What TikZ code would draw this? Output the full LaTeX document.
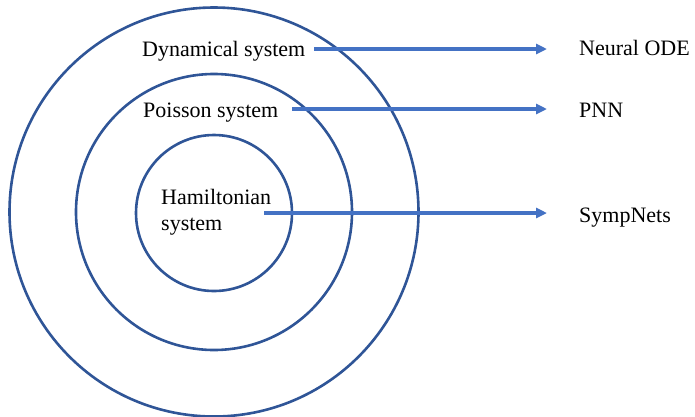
\documentclass[tikz,border=0pt]{standalone}
\usepackage{fontspec}
\setmainfont{Liberation Serif}
\usetikzlibrary{arrows.meta}
\definecolor{ringblue}{HTML}{2F5597}
\definecolor{arrowblue}{HTML}{4472C4}
\tikzset{
  ring/.style={draw=ringblue, line width=2.6pt},
  lbl/.style={inner sep=0pt, anchor=base west, font=\fontsize{22}{26}\selectfont, align=left},
  arr/.style={draw=arrowblue, line width=3.2pt, -{Triangle[length=11pt,width=10pt]}, shorten >=32pt}
}
\begin{document}
\begin{tikzpicture}[x=1pt,y=-1pt]
\useasboundingbox (0,0) rectangle (695,416);
\coordinate (c) at (214,212);
\draw[ring] (c) circle[radius=204.5pt];
\draw[ring] (c) circle[radius=138pt];
\draw[ring] (214,213) circle[radius=78pt];
\node[lbl] (dyn) at (142,56) {Dynamical system};
\node[lbl] (poi) at (143,117) {Poisson system};
\node[lbl] (ham) at (161,230) {Hamiltonian\\system};
\node[lbl] (neural) at (579,55) {Neural ODE};
\node[lbl] (pnn) at (579,117) {PNN};
\node[lbl] (symp) at (579,222) {SympNets};
\coordinate (s1) at (314,49);
\coordinate (s2) at (292,109);
\coordinate (s3) at (264,213);
\draw[arr] (s1) -- (s1 -| neural.west);
\draw[arr] (s2) -- (s2 -| pnn.west);
\draw[arr] (s3) -- (s3 -| symp.west);
\end{tikzpicture}
\end{document}
